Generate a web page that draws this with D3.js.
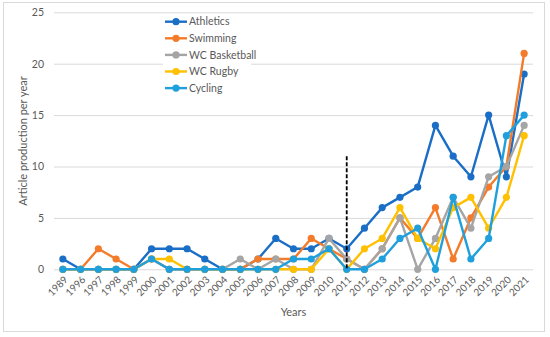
<!DOCTYPE html>
<html>
<head>
<meta charset="utf-8">
<script src="https://cdn.jsdelivr.net/npm/d3@7"></script>
<style>
  body { margin: 0; background: #fff; }
  text { font-family: Lato, "Liberation Sans", sans-serif; fill: #595959; }
</style>
</head>
<body>
<script>
// * DATA
const years = ["1989", "1996", "1997", "1998", "1999", "2000", "2001", "2002", "2003",
  "2004", "2005", "2006", "2007", "2008", "2009", "2010", "2011", "2012", "2013",
  "2014", "2015", "2016", "2017", "2018", "2019", "2020", "2021"];

const athletics    = [1, 0, 0, 0, 0, 2, 2, 2, 1, 0, 0, 1, 3, 2, 2, 3, 2, 4, 6, 7, 8, 14, 11, 9, 15, 9, 19];
const swimming     = [0, 0, 2, 1, 0, 1, 0, 0, 0, 0, 0, 1, 1, 1, 3, 2, 1, 0, 2, 5, 3, 6, 1, 5, 8, 10, 21];
const wcBasketball = [0, 0, 0, 0, 0, 1, 0, 0, 0, 0, 1, 0, 1, 0, 0, 3, 1, 0, 2, 5, 0, 3, 7, 4, 9, 10, 14];
const wcRugby      = [0, 0, 0, 0, 0, 1, 1, 0, 0, 0, 0, 0, 0, 0, 0, 2, 0, 2, 3, 6, 3, 2, 6, 7, 4, 7, 13];
const cycling      = [0, 0, 0, 0, 0, 1, 0, 0, 0, 0, 0, 0, 0, 1, 1, 2, 0, 0, 1, 3, 4, 0, 7, 1, 3, 13, 15];

const seriesNames = ["Athletics", "Swimming", "WC Basketball", "WC Rugby", "Cycling"];
const seriesValues = [athletics, swimming, wcBasketball, wcRugby, cycling];
const seriesColors = ["#1a6ec6", "#f47b2a", "#a5a5a5", "#ffc000", "#1fa0dc"];

const yTicks = [0, 5, 10, 15, 20, 25];
const markerYear = "2011";  // dashed divider
const markerTop = 11;

// * SETUP
const width = 550, height = 337;
const plot = { left: 54, right: 533, top: 12.3, bottom: 269.3 };

const x = d3.scalePoint()
  .domain(years)
  .range([plot.left, plot.right])
  .padding(0.5);

const y = d3.scaleLinear()
  .domain([0, 25])
  .range([plot.bottom, plot.top]);

const svg = d3.select("body")
  .append("svg")
  .attr("width", width)
  .attr("height", height)
  .attr("viewBox", [0, 0, width, height]);

// chart border
svg.append("rect")
  .attr("x", 3.5).attr("y", 2.5)
  .attr("width", 541).attr("height", 329)
  .attr("fill", "#fff")
  .attr("stroke", "#d9d9d9");

// * GRID + Y AXIS
svg.append("g")
  .attr("transform", `translate(${plot.left},0)`)
  .call(d3.axisLeft(y).tickValues(yTicks).tickSize(-(plot.right - plot.left)).tickPadding(10))
  .call(g => g.select(".domain").remove())
  .call(g => g.selectAll(".tick line").attr("stroke", "#d9d9d9"))
  .call(g => g.selectAll(".tick text")
    .attr("font-size", 10.5)
    .style("font-family", "Lato, sans-serif")
    .attr("fill", "#595959"));

// * X AXIS labels (rotated)
svg.append("g")
  .attr("transform", `translate(0,${plot.bottom})`)
  .call(d3.axisBottom(x).tickSize(0).tickPadding(0))
  .call(g => g.select(".domain").remove())
  .call(g => g.selectAll(".tick text")
    .attr("font-size", 10)
    .style("font-family", "Lato, sans-serif")
    .attr("fill", "#595959")
    .attr("text-anchor", "end")
    .attr("dy", 0)
    .attr("y", 0)
    .attr("transform", "translate(5,11) rotate(-45)"));

// axis titles
svg.append("text")
  .attr("x", (plot.left + plot.right) / 2)
  .attr("y", 316)
  .attr("text-anchor", "middle")
  .attr("font-size", 11)
  .text("Years");

svg.append("text")
  .attr("transform", "translate(27,141) rotate(-90)")
  .attr("text-anchor", "middle")
  .attr("font-size", 11)
  .text("Article production per year");

// * LINES
const line = d3.line()
  .x((d, i) => x(years[i]))
  .y(d => y(d));

const series = svg.append("g")
  .selectAll("g")
  .data(seriesValues)
  .join("g");

series.append("path")
  .attr("fill", "none")
  .attr("stroke", (d, i) => seriesColors[i])
  .attr("stroke-width", 2.4)
  .attr("stroke-linejoin", "round")
  .attr("d", line);

series.selectAll("circle")
  .data((d, i) => d.map((v, j) => ({ v, year: years[j], c: seriesColors[i] })))
  .join("circle")
  .attr("cx", d => x(d.year))
  .attr("cy", d => y(d.v))
  .attr("r", 3.6)
  .attr("fill", d => d.c);

// dashed divider
svg.append("line")
  .attr("x1", x(markerYear)).attr("x2", x(markerYear))
  .attr("y1", y(markerTop)).attr("y2", y(0))
  .attr("stroke", "#000")
  .attr("stroke-width", 1.8)
  .attr("stroke-dasharray", "4,2");

// * LEGEND
const legend = svg.append("g")
  .attr("transform", "translate(163,14)");

legend.append("rect")
  .attr("width", 88).attr("height", 82)
  .attr("fill", "#fff");

const item = legend.selectAll("g")
  .data(seriesNames)
  .join("g")
  .attr("transform", (d, i) => `translate(0,${7.7 + i * 16.6})`);

item.append("line")
  .attr("x1", 2).attr("x2", 24)
  .attr("stroke", (d, i) => seriesColors[i])
  .attr("stroke-width", 2.4);

item.append("circle")
  .attr("cx", 13).attr("r", 3.6)
  .attr("fill", (d, i) => seriesColors[i]);

item.append("text")
  .attr("x", 26)
  .attr("dy", "0.35em")
  .attr("font-size", 10.5)
  .text(d => d);
</script>
</body>
</html>
